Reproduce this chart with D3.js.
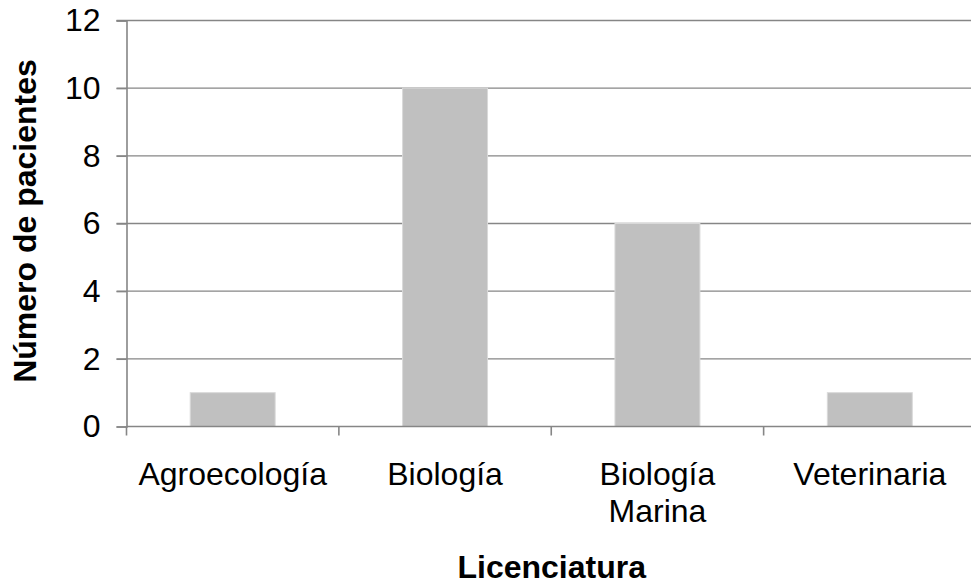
<!DOCTYPE html>
<html>
<head>
<meta charset="utf-8">
<script src="https://cdn.jsdelivr.net/npm/d3@7/dist/d3.min.js"></script>
<style>
  html, body { margin: 0; padding: 0; background: #fff; }
  svg { display: block; font-family: "Liberation Sans", Arial, sans-serif; }
</style>
</head>
<body>
<svg id="chart" width="971" height="584"></svg>
<script>
const categories = ["Agroecología", "Biología", "Biología\nMarina", "Veterinaria"];
const values = [1, 10, 6, 1];
const yTicks = [0, 2, 4, 6, 8, 10, 12];
const xTitle = "Licenciatura";
const yTitle = "Número de pacientes";

(function () {
const svg = d3.select("#chart");
const mLeft = 126.5, mRight = 976, mTop = 20.5, mBottom = 426.5;
const fs = 32;

const x = d3.scaleBand().domain(categories).range([mLeft, mRight])
  .paddingInner(0.6).paddingOuter(0.3);
const y = d3.scaleLinear().domain([0, 12]).range([mBottom, mTop]);

// gridlines
svg.append("g").selectAll("line").data(yTicks.filter(d => d > 0)).join("line")
  .attr("x1", mLeft - 10).attr("x2", mRight)
  .attr("y1", d => y(d)).attr("y2", d => y(d))
  .attr("stroke", "#868686").attr("stroke-width", 1.4);

// bars
svg.append("g").selectAll("rect").data(values).join("rect")
  .attr("x", (d, i) => x(categories[i]))
  .attr("width", x.bandwidth())
  .attr("y", d => y(d))
  .attr("height", d => y(0) - y(d))
  .attr("fill", "#c0c0c0")
  .attr("stroke", "#d9d9d9").attr("stroke-width", 1);

// y axis
const yAxis = svg.append("g").attr("transform", `translate(${mLeft},0)`)
  .call(d3.axisLeft(y).tickValues(yTicks).tickSize(10).tickPadding(16).tickFormat(d3.format("d")));
yAxis.select(".domain").attr("stroke", "#868686").attr("stroke-width", 1.6);
yAxis.selectAll(".tick line").attr("stroke", "#868686").attr("stroke-width", 1.4);
yAxis.selectAll(".tick text").attr("font-size", fs).attr("fill", "#000")
  .attr("font-family", "'Liberation Sans', Arial, sans-serif");

// x axis line
svg.append("line").attr("x1", mLeft).attr("x2", mRight)
  .attr("y1", mBottom).attr("y2", mBottom)
  .attr("stroke", "#868686").attr("stroke-width", 1.6);

// x tick marks at band boundaries
const step = x.step();
const boundaries = d3.range(categories.length + 1).map(i => mLeft + i * step);
svg.append("g").selectAll("line").data(boundaries).join("line")
  .attr("x1", d => d).attr("x2", d => d)
  .attr("y1", mBottom).attr("y2", mBottom + 9)
  .attr("stroke", "#868686").attr("stroke-width", 1.6);

// x labels
const xl = svg.append("g").selectAll("text").data(categories).join("text")
  .attr("x", d => x(d) + x.bandwidth() / 2)
  .attr("y", 485)
  .attr("text-anchor", "middle")
  .attr("font-size", fs)
  .attr("fill", "#000");
xl.each(function(d) {
  const lines = d.split("\n");
  d3.select(this).selectAll("tspan").data(lines).join("tspan")
    .attr("x", x(d) + x.bandwidth() / 2)
    .attr("dy", (l, i) => i === 0 ? 0 : 37)
    .text(l => l);
});

// titles
svg.append("text").attr("x", (mLeft + 977) / 2).attr("y", 578)
  .attr("text-anchor", "middle").attr("font-size", fs).attr("font-weight", "bold")
  .text(xTitle);
svg.append("text").attr("transform", "translate(36,221) rotate(-90)")
  .attr("text-anchor", "middle").attr("font-size", fs).attr("font-weight", "bold")
  .text(yTitle);
})();
</script>
</body>
</html>
